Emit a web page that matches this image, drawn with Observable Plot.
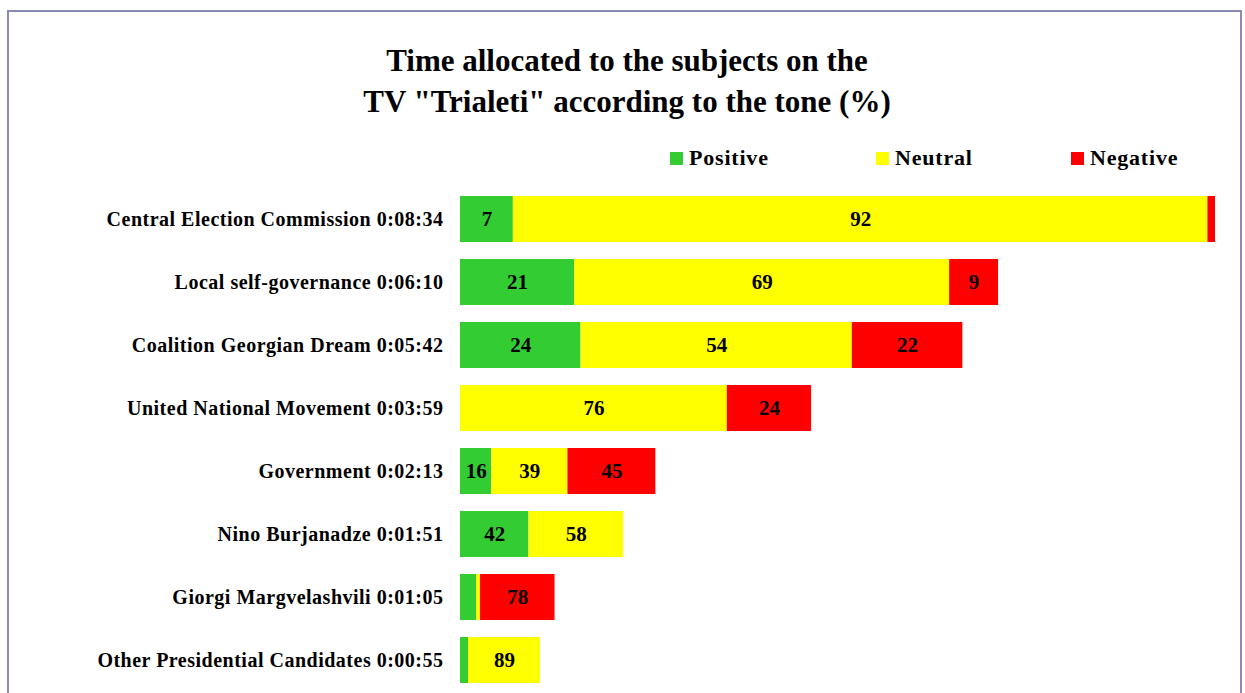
<!DOCTYPE html>
<html>
<head>
<meta charset="utf-8">
<script src="https://cdn.jsdelivr.net/npm/d3@7"></script>
<script src="https://cdn.jsdelivr.net/npm/@observablehq/plot@0.6"></script>
<style>
  html, body { margin: 0; padding: 0; background: #fff; overflow: hidden; }
  body { width: 1245px; height: 693px; position: relative; font-family: "Liberation Serif", "DejaVu Serif", serif; }
  #frame { position: absolute; left: 7px; top: 10px; width: 1235px; height: 720px; border: 2px solid #8a8ab8; box-sizing: border-box; }
  #title { position: absolute; left: 0; width: 1254px; top: 40px; text-align: center; font-size: 31px; font-weight: bold; line-height: 41px; color: #000; letter-spacing: 0px; }
  .leg { position: absolute; top: 145px; font-size: 22px; font-weight: bold; color: #000; display: flex; align-items: center; letter-spacing: 0.8px; }
  .leg span.sw { display: inline-block; width: 13px; height: 13px; margin-right: 6px; }
  #chart { position: absolute; left: 0; top: 168px; }
  #chart svg g[aria-label="y-axis tick label"] text { letter-spacing: 0.5px; }
</style>
</head>
<body>
<div id="frame"></div>
<div id="title">Time allocated to the subjects on the<br>TV "Trialeti" according to the tone (%)</div>
<div id="legend"></div>
<div id="chart"></div>
<script>
const subjects = [
  "Central Election Commission",
  "Local self-governance",
  "Coalition Georgian Dream",
  "United National Movement",
  "Government",
  "Nino Burjanadze",
  "Giorgi Margvelashvili",
  "Other Presidential Candidates"
];
const durations = ["0:08:34", "0:06:10", "0:05:42", "0:03:59", "0:02:13", "0:01:51", "0:01:05", "0:00:55"];
const tones = ["Positive", "Neutral", "Negative"];
const toneColors = ["#33cc33", "#ffff00", "#ff0000"];
const positive = [7, 21, 24, 0, 16, 42, 17, 10];
const neutral  = [92, 69, 54, 76, 39, 58, 4, 89];
const negative = [1, 9, 22, 24, 45, 0, 78, 0];
const labelled = {
  Positive: [true, true, true, false, true, true, false, false],
  Neutral:  [true, true, true, true, true, true, false, true],
  Negative: [false, true, true, true, true, false, true, false]
};

const toSec = s => { const [h, m, x] = s.split(":").map(Number); return h * 3600 + m * 60 + x; };
const series = {Positive: positive, Neutral: neutral, Negative: negative};
const names = subjects.map((s, i) => `${s} ${durations[i]}`);

const rows = [];
subjects.forEach((s, i) => {
  tones.forEach(t => {
    const pct = series[t][i];
    rows.push({
      subject: names[i],
      tone: t,
      pct,
      sec: toSec(durations[i]) * pct / 100,
      label: labelled[t][i] ? String(Math.round(pct)) : ""
    });
  });
});

// legend
const legendX = [670, 876, 1071];
const legend = document.getElementById("legend");
tones.forEach((t, i) => {
  const d = document.createElement("div");
  d.className = "leg";
  d.style.left = legendX[i] + "px";
  d.innerHTML = `<span class="sw" style="background:${toneColors[i]}"></span>${t}`;
  legend.appendChild(d);
});

const maxSec = toSec(durations[0]);
const chart = Plot.plot({
  width: 1245,
  height: 533,
  marginLeft: 460,
  marginRight: 30,
  marginTop: 9,
  marginBottom: 0,
  style: {fontFamily: "Liberation Serif, DejaVu Serif, serif", background: "transparent"},
  x: {domain: [0, maxSec], axis: null},
  y: {domain: names, padding: 0.273, label: null, axis: null},
  color: {domain: tones, range: toneColors},
  marks: [
    Plot.barX(rows, Plot.stackX({x: "sec", y: "subject", z: "tone", fill: "tone", order: tones})),
    Plot.text(rows, Plot.stackX({x: "sec", y: "subject", z: "tone", text: "label", order: tones, fontSize: 21, fontWeight: "bold", fill: "#000"})),
    Plot.axisY({tickSize: 0, tickPadding: 17, fontSize: 20, fontWeight: "bold", label: null, fill: "#000"})
  ]
});
document.getElementById("chart").appendChild(chart);
</script>
</body>
</html>
